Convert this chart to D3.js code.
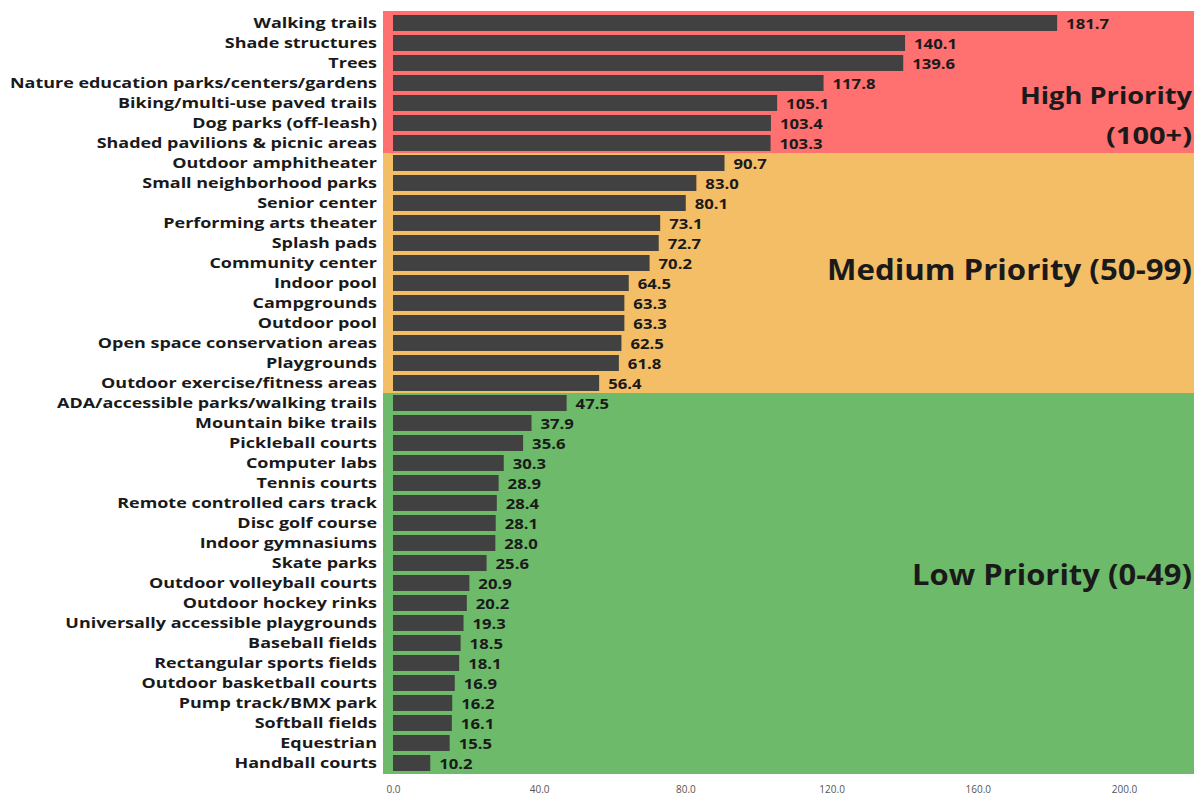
<!DOCTYPE html>
<html>
<head>
<meta charset="utf-8">
<script src="https://cdn.jsdelivr.net/npm/d3@7"></script>
<style>
  html, body { margin: 0; padding: 0; background: #ffffff; }
  svg { display: block; }
  text { font-family: "Open Sans", "Noto Sans", sans-serif; }
</style>
</head>
<body>
<svg id="chart" width="1196" height="795"></svg>
<script>
// Amenity priority scores
const categories = [
  "Walking trails", "Shade structures", "Trees",
  "Nature education parks/centers/gardens", "Biking/multi-use paved trails",
  "Dog parks (off-leash)", "Shaded pavilions & picnic areas",
  "Outdoor amphitheater", "Small neighborhood parks", "Senior center",
  "Performing arts theater", "Splash pads", "Community center", "Indoor pool",
  "Campgrounds", "Outdoor pool", "Open space conservation areas", "Playgrounds",
  "Outdoor exercise/fitness areas", "ADA/accessible parks/walking trails",
  "Mountain bike trails", "Pickleball courts", "Computer labs", "Tennis courts",
  "Remote controlled cars track", "Disc golf course", "Indoor gymnasiums",
  "Skate parks", "Outdoor volleyball courts", "Outdoor hockey rinks",
  "Universally accessible playgrounds", "Baseball fields",
  "Rectangular sports fields", "Outdoor basketball courts",
  "Pump track/BMX park", "Softball fields", "Equestrian", "Handball courts"
];
const scores = [
  181.7, 140.1, 139.6, 117.8, 105.1, 103.4, 103.3,
  90.7, 83.0, 80.1, 73.1, 72.7, 70.2, 64.5, 63.3, 63.3, 62.5, 61.8, 56.4,
  47.5, 37.9, 35.6, 30.3, 28.9, 28.4, 28.1, 28.0, 25.6, 20.9, 20.2, 19.3,
  18.5, 18.1, 16.9, 16.2, 16.1, 15.5, 10.2
];
const xTicks = [0, 40, 80, 120, 160, 200];

// Priority tiers: first/last category in each, caption lines
const tierNames = ["High Priority", "Medium Priority", "Low Priority"];
const tierFirst = ["Walking trails", "Outdoor amphitheater", "ADA/accessible parks/walking trails"];
const tierLast  = ["Shaded pavilions & picnic areas", "Outdoor exercise/fitness areas", "Handball courts"];
const tierLines = [["High Priority", "(100+)"], ["Medium Priority (50-99)"], ["Low Priority (0-49)"]];
const tierColors = ["#ff7070", "#f4be67", "#6dba6a"];

const svg = d3.select("#chart");
const x = d3.scaleLinear().domain([0, 200]).range([393, 1124]);
const y = d3.scaleBand().domain(categories).range([13, 773]).paddingInner(0.2).paddingOuter(0.1);
const gap = (y.step() - y.bandwidth()) / 2;

// horizontally condense/stretch a text selection by a factor (narrow-face look)
function widen(sel, factor) {
  sel.each(function () {
    const w = this.getComputedTextLength();
    d3.select(this).attr("textLength", w * factor).attr("lengthAdjust", "spacingAndGlyphs");
  });
}

// tier backgrounds
const tiers = tierNames.map((name, i) => ({
  name, color: tierColors[i], lines: tierLines[i],
  top: y(tierFirst[i]) - gap,
  bottom: y(tierLast[i]) + y.bandwidth() + gap
}));
tiers[0].top -= 2;
tiers[2].bottom += 1;

svg.append("g").selectAll("rect").data(tiers).join("rect")
  .attr("x", 383).attr("width", 1194 - 383)
  .attr("y", d => d.top).attr("height", d => d.bottom - d.top)
  .attr("fill", d => d.color);

// bars
svg.append("g").selectAll("rect").data(categories).join("rect")
  .attr("x", x(0))
  .attr("y", d => y(d))
  .attr("width", (d, i) => x(scores[i]) - x(0))
  .attr("height", y.bandwidth())
  .attr("fill", "#414141");

// value labels
const vals = svg.append("g").selectAll("text").data(categories).join("text")
  .attr("x", (d, i) => x(scores[i]) + 9)
  .attr("y", d => y(d) + y.bandwidth() / 2)
  .attr("dy", "0.38em")
  .attr("font-size", 14.5).attr("font-weight", 700).attr("fill", "#1a1a1a")
  .text((d, i) => scores[i].toFixed(1));
widen(vals, 1.15);

// category axis
const yAxis = svg.append("g").attr("transform", "translate(383,0)")
  .call(d3.axisLeft(y).tickSize(0).tickPadding(6));
yAxis.select(".domain").remove();
yAxis.selectAll("text")
  .attr("font-size", 14.5).attr("font-weight", 700).attr("fill", "#1a1a1a")
  .attr("dy", "0.36em")
  .style("font-family", "'Open Sans', sans-serif");

// fit the longest category label into the left margin
let maxW = 0;
yAxis.selectAll("text").each(function () { maxW = Math.max(maxW, this.getComputedTextLength()); });
widen(yAxis.selectAll("text"), 367 / maxW);

// value axis
const xAxis = svg.append("g").attr("transform", "translate(0,779)")
  .call(d3.axisBottom(x).tickValues(xTicks).tickFormat(d3.format(".1f")).tickSize(0).tickPadding(7));
xAxis.select(".domain").remove();
xAxis.selectAll("text").attr("font-size", 10).attr("fill", "#555")
  .style("font-family", "'Open Sans', sans-serif");

// tier captions: [text, baseline, font size, target width]
const captionSpecs = [
  [["High Priority", 104, 23, 172], ["(100+)", 144, 23, 86]],
  [["Medium Priority (50-99)", 280, 28, 365]],
  [["Low Priority (0-49)", 585, 28, 280]]
];
const cap = svg.append("g");
captionSpecs.forEach(lines => {
  lines.forEach(([txt, by, fs, w]) => {
    cap.append("text")
      .attr("x", 1192).attr("y", by)
      .attr("text-anchor", "end")
      .attr("font-size", fs).attr("font-weight", 700).attr("fill", "#1a1a1a")
      .attr("textLength", w).attr("lengthAdjust", "spacingAndGlyphs")
      .text(txt);
  });
});
</script>
</body>
</html>
